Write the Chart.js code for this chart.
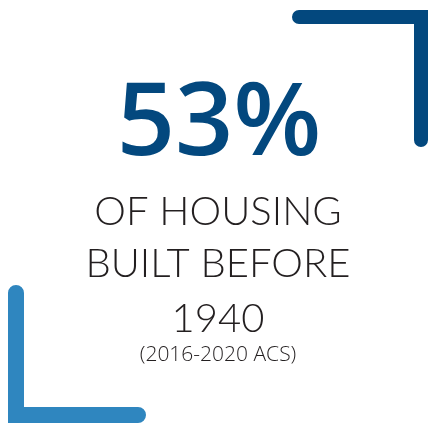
<!DOCTYPE html>
<html>
<head>
<meta charset="utf-8">
<script src="https://cdn.jsdelivr.net/npm/chart.js@4"></script>
<style>
  html, body { margin: 0; padding: 0; background: #fff; }
  #stat { display: block; }
</style>
</head>
<body>
<canvas id="stat" width="434" height="425"></canvas>
<script>
// the one number on the card
const statValue = [53];
const statUnit = '%';
const labelLines = ['OF HOUSING', 'BUILT BEFORE', '1940'];
const sourceNote = '(2016-2020 ACS)';

const darkBlue = '#03487e';
const lightBlue = '#2f86bf';
const textColor = '#231f20';

// draws the big number, the caption and the two corner brackets
const cardPlugin = {
  id: 'card',
  afterDraw(chart) {
    const ctx = chart.ctx;
    ctx.save();
    ctx.lineCap = 'round';
    ctx.lineJoin = 'miter';

    // top right bracket
    ctx.strokeStyle = darkBlue;
    ctx.lineWidth = 14;
    ctx.beginPath();
    ctx.moveTo(299, 17);
    ctx.lineTo(421, 17);
    ctx.lineTo(421, 140);
    ctx.stroke();

    // bottom left bracket
    ctx.strokeStyle = lightBlue;
    ctx.lineWidth = 16;
    ctx.beginPath();
    ctx.moveTo(16, 293);
    ctx.lineTo(16, 415);
    ctx.lineTo(138, 415);
    ctx.stroke();

    ctx.textAlign = 'center';
    ctx.textBaseline = 'alphabetic';

    ctx.fillStyle = darkBlue;
    ctx.font = '600 102px "Open Sans"';
    ctx.fillText(statValue[0] + statUnit, 219, 155);

    ctx.fillStyle = textColor;
    ctx.font = '300 40px Lato';
    const baselines = [225, 277, 332];
    labelLines.forEach((line, i) => ctx.fillText(line, 218, baselines[i]));

    ctx.font = '300 21px "Open Sans"';
    ctx.fillText(sourceNote, 218, 361);
    ctx.restore();
  }
};

new Chart(document.getElementById('stat'), {
  type: 'doughnut',
  data: {
    labels: ['Built before 1940', 'Other'],
    datasets: [{ data: [statValue[0], 100 - statValue[0]], backgroundColor: ['rgba(0,0,0,0)', 'rgba(0,0,0,0)'], borderWidth: 0 }]
  },
  options: {
    responsive: false,
    animation: false,
    events: [],
    plugins: { legend: { display: false }, tooltip: { enabled: false } }
  },
  plugins: [cardPlugin]
});
</script>
</body>
</html>
